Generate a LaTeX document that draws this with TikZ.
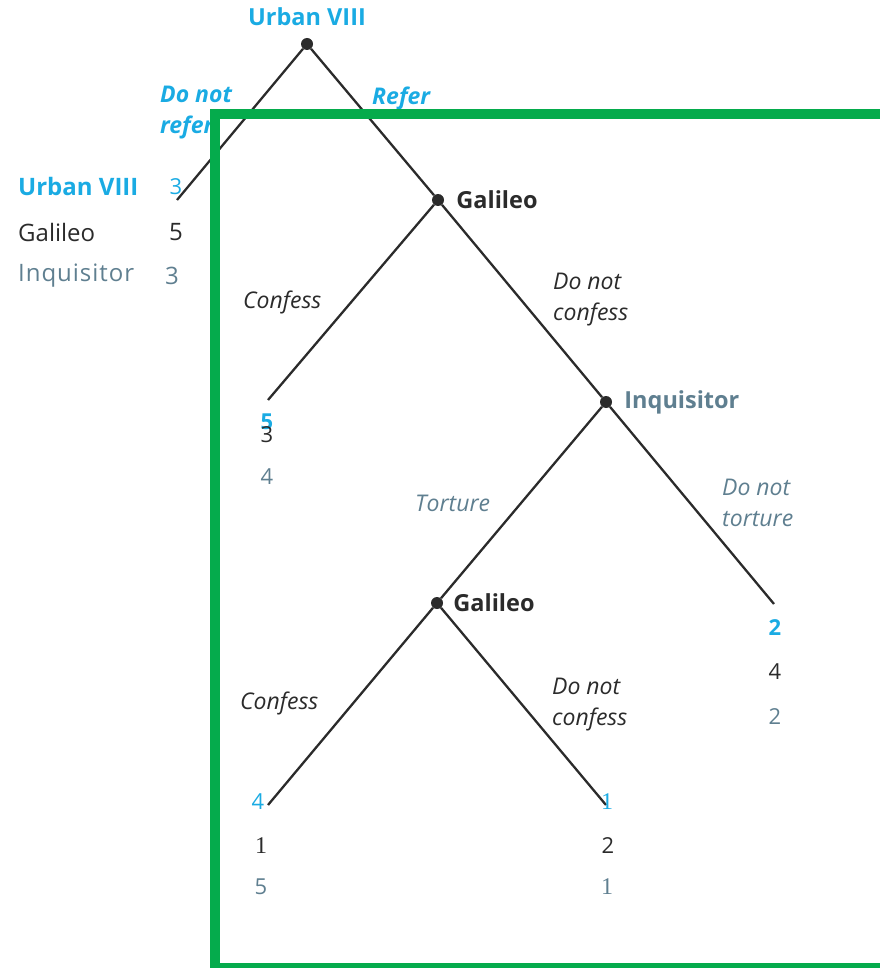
\documentclass[tikz,border=0pt]{standalone}
\usepackage{fontspec}
\setmainfont{Open Sans}
\newfontfamily\serifnum{Liberation Serif}
\usetikzlibrary{positioning}
\definecolor{urban}{HTML}{1AABE3}
\definecolor{inquis}{HTML}{5F7F90}
\definecolor{ink}{HTML}{2B2B2B}
\definecolor{frame}{HTML}{05AB4C}

\begin{document}
\begin{tikzpicture}[x=1pt, y=-1pt,
  branch/.style={line width=2.3pt, color=ink},
  dot/.style={circle, fill=ink, inner sep=0pt, minimum size=12pt},
  player/.style={font=\fontsize{23.5}{28}\selectfont\bfseries, inner sep=0pt},
  move/.style={font=\fontsize{23}{31}\selectfont\itshape, align=left, inner sep=0pt, anchor=west},
  pay/.style={font=\fontsize{22}{26}\selectfont, inner sep=0pt},
  legend/.style={font=\fontsize{24}{28}\selectfont, inner sep=0pt, anchor=west}]
\useasboundingbox (0,0) rectangle (879,968);
\node[dot] (u) at (307,44) {};
\node[dot] (g1) at (438,200) {};
\node[dot] (i) at (606,402) {};
\node[dot] (g2) at (437,603) {};
\coordinate (l0) at (177,200);
\coordinate (l1) at (268,400);
\coordinate (l2) at (774,604);
\coordinate (l3) at (268,805);
\coordinate (l4) at (606,805);
\draw[branch] (u) -- (l0);
\draw[branch] (u) -- (g1);
\draw[branch] (g1) -- (l1);
\draw[branch] (g1) -- (i);
\draw[branch] (i) -- (g2);
\draw[branch] (i) -- (l2);
\draw[branch] (g2) -- (l3);
\draw[branch] (g2) -- (l4);
\node[player, urban, above=12pt of u] (tu) {Urban VIII};
\node[player, ink, right=12pt of g1] (tg1) {Galileo};
\node[player, inquis, right=12pt of i] (ti) {Inquisitor};
\node[player, ink, right=10pt of g2] (tg2) {Galileo};
\node[move, urban, font=\fontsize{23}{31}\selectfont\bfseries\itshape] (dnr) at (160,113) {Do not\\refer};
\node[move, urban, font=\fontsize{23}{31}\selectfont\bfseries\itshape] (ref) at (372,98) {Refer};
\node[move, ink] (c1) at (243,302) {Confess};
\node[move, ink] (dnc1) at (553,300) {Do not\\confess};
\node[move, inquis] (tor) at (415,503) {Torture};
\node[move, inquis] (dnt) at (722,503) {Do not\\torture};
\node[move, ink] (c2) at (240,703) {Confess};
\node[move, ink] (dnc2) at (552,705) {Do not\\confess};
\node[pay, urban, font=\fontsize{22}{26}\selectfont\bfseries] (p1u) at (267,422) {5};
\node[pay, ink] (p1g) at (267,435) {3};
\node[pay, inquis] (p1i) at (267,477) {4};
\node[pay, urban, font=\fontsize{22}{26}\selectfont\bfseries] (p2u) at (775,628) {2};
\node[pay, ink] (p2g) at (775,672) {4};
\node[pay, inquis] (p2i) at (775,717) {2};
\node[pay, urban] (p3u) at (258,802) {4};
\node[pay, ink, font=\fontsize{24}{26}\serifnum] (p3g) at (261,846) {1};
\node[pay, inquis] (p3i) at (261,887) {5};
\node[pay, urban, font=\fontsize{24}{26}\serifnum] (p4u) at (607,802) {1};
\node[pay, ink] (p4g) at (608,846) {2};
\node[pay, inquis, font=\fontsize{24}{26}\serifnum] (p4i) at (607,887) {1};
\node[legend, urban, font=\fontsize{24}{28}\selectfont\bfseries] (lu) at (18,187) {Urban VIII};
\node[pay, urban] (lu3) at (176,187) {3};
\node[legend, ink] (lg) at (18,232) {Galileo};
\node[pay, ink, font=\fontsize{24}{28}\selectfont] (lg5) at (176,232) {5};
\node[legend, inquis, font=\fontsize{24}{28}\selectfont\addfontfeatures{LetterSpace=4}] (li) at (18,276) {Inquisitor};
\node[pay, inquis, font=\fontsize{24}{28}\selectfont] (li3) at (172,276) {3};
\draw[frame, line width=10pt] (215,114) rectangle (886,968);
\end{tikzpicture}
\end{document}
